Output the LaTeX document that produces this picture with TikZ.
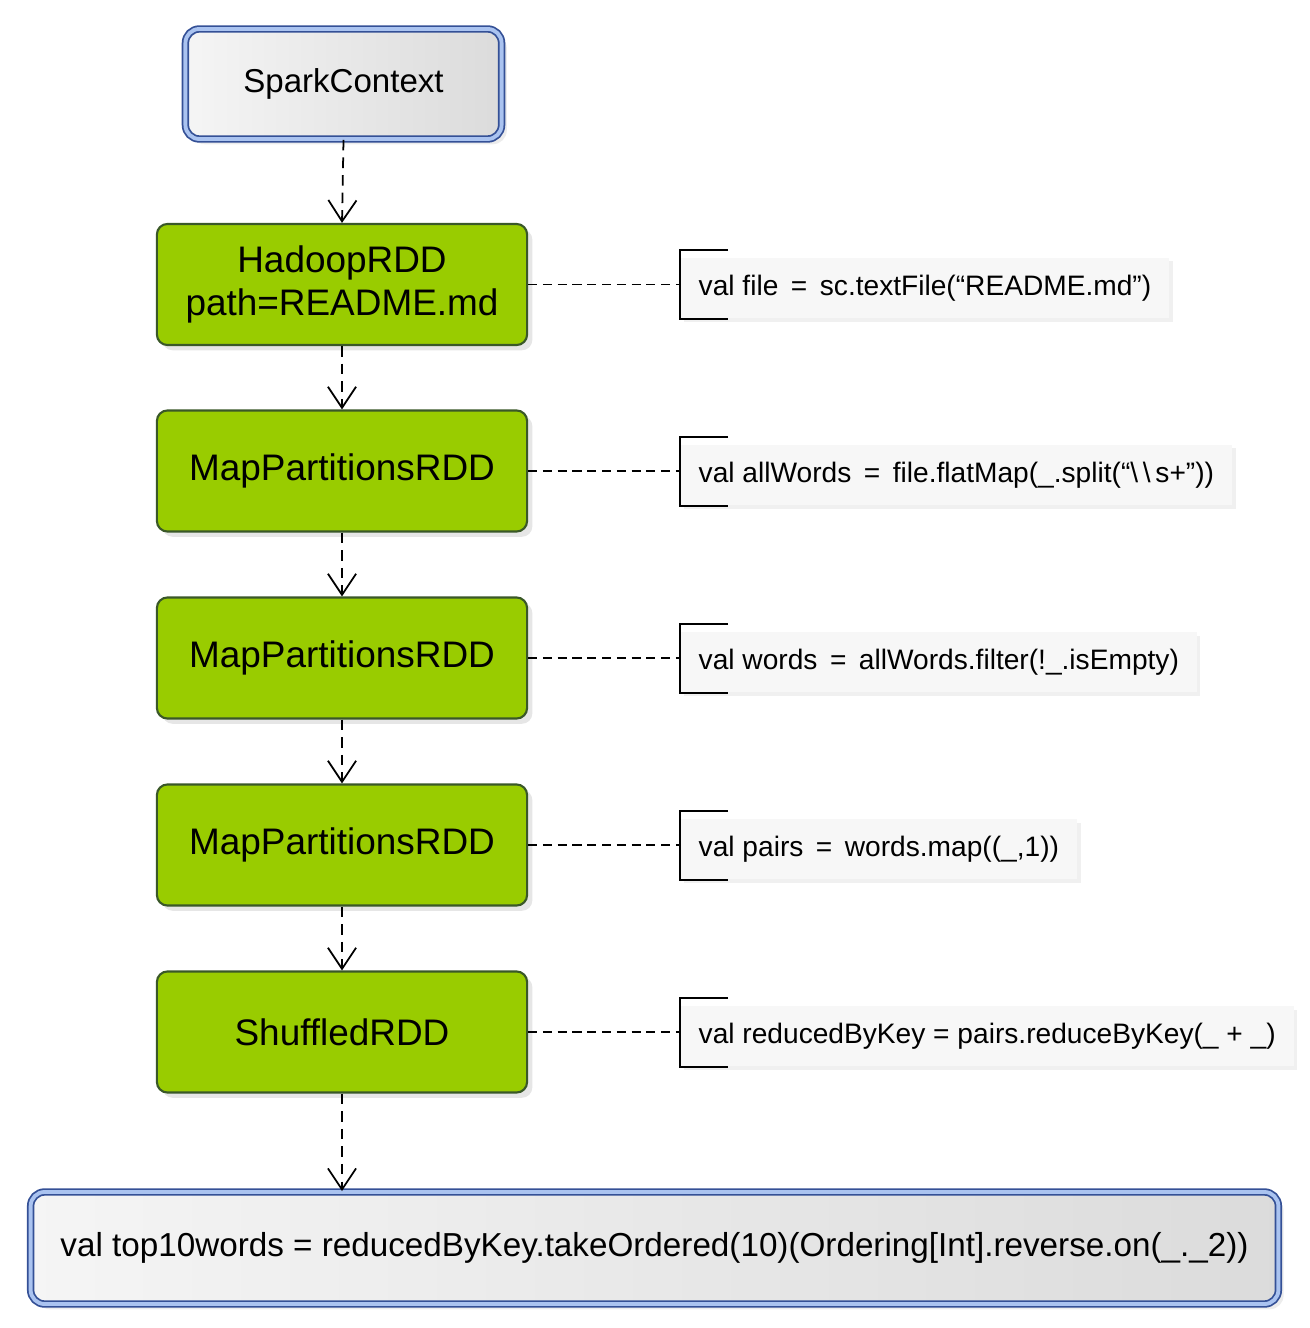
\documentclass[tikz,border=0pt]{standalone}
\usepackage{fontspec}
\setmainfont{Liberation Sans}
\usepackage{xcolor}
\usetikzlibrary{arrows.meta,shadows}

\definecolor{rddgreen}{RGB}{153,204,0}
\definecolor{rddedge}{RGB}{58,88,40}
\definecolor{ctxedge}{RGB}{52,80,150}
\definecolor{ctxgap}{RGB}{170,195,240}
\definecolor{notefill}{RGB}{247,247,247}

\begin{document}
\begin{tikzpicture}[x=0.01cm,y=-0.01cm,
    rdd/.style={draw=rddedge, fill=rddgreen, line width=0.6pt, rounded corners=3pt,
        minimum width=3.7cm, minimum height=1.21cm, align=center,
        font=\fontsize{10.5}{12.2}\selectfont,
        drop shadow={opacity=0.2, shadow xshift=1.5pt, shadow yshift=-1.5pt}},
    ctx/.style={draw=ctxedge, double=ctxgap, double distance=1.1pt, line width=0.5pt,
        rounded corners=4pt, left color=gray!8, right color=gray!28,
        drop shadow={opacity=0.15, shadow xshift=1.5pt, shadow yshift=-1.5pt}},
    note/.style={fill=notefill, anchor=west, minimum height=0.6cm,
        inner xsep=0.18cm, font=\fontsize{8}{10}\selectfont,
        drop shadow={opacity=0.12, shadow xshift=1pt, shadow yshift=-1pt}},
    flow/.style={dash pattern=on 3pt off 2pt, line width=0.5pt,
        -{Straight Barb[length=6pt,width=8pt]}},
    link/.style={dash pattern=on 2.6pt off 1.6pt, line width=0.5pt}]

    \useasboundingbox (0,0) rectangle (1310,1328);

    % Context on top
    \node[ctx, minimum width=3.16cm, minimum height=1.1cm,
        font=\fontsize{9.4}{11}\selectfont] (ctx) at (343.5,84) {SparkContext};

    % RDD chain
    \node[rdd] (r1) at (342,284.5) {HadoopRDD\\path=README.md};
    \node[rdd] (r2) at (342,471) {MapPartitionsRDD};
    \node[rdd] (r3) at (342,658) {MapPartitionsRDD};
    \node[rdd] (r4) at (342,845) {MapPartitionsRDD};
    \node[rdd] (r5) at (342,1032) {ShuffledRDD};

    % Last action
    \node[ctx, minimum width=12.47cm, minimum height=1.12cm,
        font=\fontsize{9.45}{11}\selectfont] (top) at (654.5,1248)
        {val top10words = reducedByKey.takeOrdered(10)(Ordering[Int].reverse.on(\_.\_2))};

    % Code notes
    \node[note] (n1) at (680,288) {val file \,=\, sc.textFile(``README.md'')};
    \node[note] (n2) at (680,475) {val allWords \,=\, file.flatMap(\_.split(``\textbackslash\,\textbackslash\,s+''))};
    \node[note] (n3) at (680,662) {val words \,=\, allWords.filter(!\_.isEmpty)};
    \node[note] (n4) at (680,849) {val pairs \,=\, words.map((\_,1))};
    \node[note] (n5) at (680,1036) {val reducedByKey = pairs.reduceByKey(\_ + \_)};

    % Arrows
    \draw[flow] (ctx.south) -- (r1.north);
    \draw[flow] (r1.south) -- (r2.north);
    \draw[flow] (r2.south) -- (r3.north);
    \draw[flow] (r3.south) -- (r4.north);
    \draw[flow] (r4.south) -- (r5.north);
    \draw[flow] (r5.south) -- (r5.south |- top.north);

    % Links and brackets
    \foreach \i in {1,...,5} {
        \draw[link] (r\i.east) -- (n\i.west |- r\i.east);
        \draw[line width=0.6pt] ([shift={(48,-7)}]n\i.north west) -- ([shift={(0,-7)}]n\i.north west)
            -- (n\i.south west) -- ([shift={(48,0)}]n\i.south west);
    }
\end{tikzpicture}
\end{document}
